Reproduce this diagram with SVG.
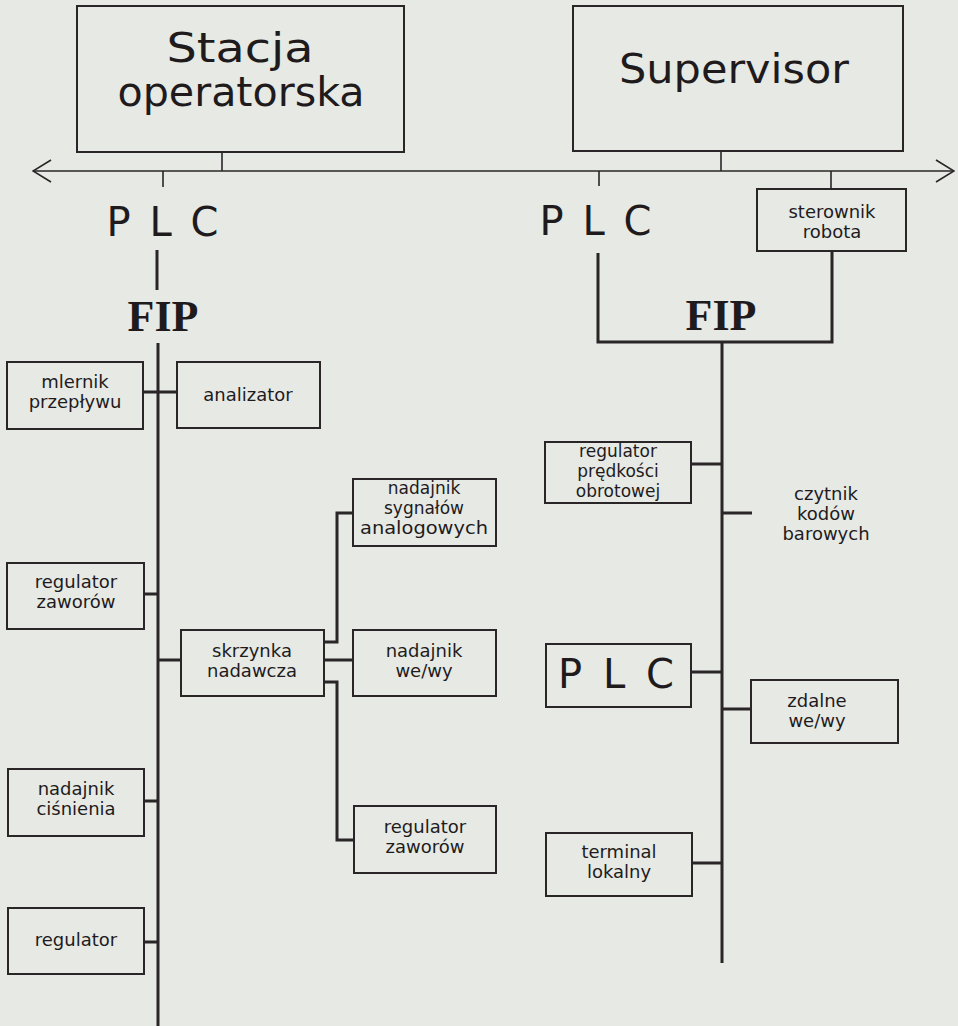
<svg xmlns="http://www.w3.org/2000/svg" width="958" height="1026" viewBox="0 0 958 1026">
<defs>
<style>
.bg{fill:#e6e9e4}
.box{fill:none;stroke:#2a2527;stroke-width:2}
.bus{fill:none;stroke:#2a2527;stroke-width:3}
.thin{fill:none;stroke:#2a2527;stroke-width:1.6}
.lbl{font-family:"DejaVu Sans","Liberation Sans",sans-serif;font-size:18px;fill:#1f1b1d;text-anchor:middle}
.sm{font-size:17px}
.big{font-size:40px}
.plc{font-size:40px}
.fip{font-family:"Liberation Serif","DejaVu Serif",serif;font-weight:bold;font-size:44px;fill:#1f1b1d;text-anchor:middle}
</style>
<marker id="chev" viewBox="0 0 20 24" refX="19" refY="12" markerWidth="20" markerHeight="24" markerUnits="userSpaceOnUse" orient="auto-start-reverse">
<path d="M1,1 L19,12 L1,23" fill="none" stroke="#2a2527" stroke-width="1.6"/>
</marker>
</defs>
<rect class="bg" x="0" y="0" width="958" height="1026"/>

<g id="connectors">
<line class="thin" x1="33" y1="171" x2="954" y2="171" marker-start="url(#chev)" marker-end="url(#chev)"/>
<line class="thin" x1="222" y1="152" x2="222" y2="171"/>
<line class="thin" x1="721" y1="151" x2="721" y2="171"/>
<line class="thin" x1="163" y1="171" x2="163" y2="187"/>
<line class="thin" x1="599" y1="171" x2="599" y2="186"/>
<line class="thin" x1="831" y1="171" x2="831" y2="189"/>
<line class="bus" x1="157" y1="250" x2="157" y2="290"/>
<line class="bus" x1="158" y1="343" x2="158" y2="1026"/>
<polyline class="bus" points="598,253 598,342 832,342 832,251"/>
<line class="bus" x1="722" y1="342" x2="722" y2="963"/>
<line class="bus" x1="143" y1="392" x2="177" y2="392"/>
<line class="bus" x1="144" y1="594" x2="158" y2="594"/>
<line class="bus" x1="158" y1="660" x2="181" y2="660"/>
<line class="bus" x1="144" y1="801" x2="158" y2="801"/>
<line class="bus" x1="144" y1="942" x2="158" y2="942"/>
<polyline class="bus" points="353,513 337,513 337,642 324,642"/>
<line class="bus" x1="324" y1="660" x2="353" y2="660"/>
<polyline class="bus" points="324,682 337,682 337,840 354,840"/>
<line class="bus" x1="691" y1="464" x2="722" y2="464"/>
<line class="bus" x1="722" y1="513" x2="752" y2="513"/>
<line class="bus" x1="691" y1="672" x2="722" y2="672"/>
<line class="bus" x1="722" y1="709" x2="751" y2="709"/>
<line class="bus" x1="692" y1="863" x2="722" y2="863"/>
</g>

<g id="stacja">
<rect class="box" x="77" y="6" width="327" height="146"/>
<text class="lbl big" x="240" y="62" textLength="147" lengthAdjust="spacingAndGlyphs">Stacja</text>
<text class="lbl big" x="241" y="106" textLength="247" lengthAdjust="spacingAndGlyphs">operatorska</text>
</g>
<g id="supervisor">
<rect class="box" x="573" y="6" width="330" height="145"/>
<text class="lbl big" x="734" y="83" textLength="230" lengthAdjust="spacingAndGlyphs">Supervisor</text>
</g>
<g id="plc-left">
<text class="lbl plc" x="164" y="236" letter-spacing="3">P L C</text>
</g>
<g id="fip-left">
<text class="fip" x="163" y="331">FIP</text>
</g>
<g id="plc-right">
<text class="lbl plc" x="597" y="235" letter-spacing="3">P L C</text>
</g>
<g id="fip-right">
<text class="fip" x="721" y="330">FIP</text>
</g>
<g id="sterownik">
<rect class="box" x="757" y="189" width="149" height="62"/>
<text class="lbl" x="832" y="218">sterownik</text>
<text class="lbl" x="832" y="238">robota</text>
</g>
<g id="miernik">
<rect class="box" x="7" y="362" width="136" height="67"/>
<text class="lbl" x="75" y="388">mlernik</text>
<text class="lbl" x="75" y="408">przepływu</text>
</g>
<g id="analizator">
<rect class="box" x="177" y="362" width="143" height="66"/>
<text class="lbl" x="248" y="401">analizator</text>
</g>
<g id="regulator-zaworow-l">
<rect class="box" x="7" y="563" width="137" height="66"/>
<text class="lbl" x="76" y="588">regulator</text>
<text class="lbl" x="76" y="608">zaworów</text>
</g>
<g id="skrzynka">
<rect class="box" x="181" y="630" width="143" height="66"/>
<text class="lbl" x="252" y="657">skrzynka</text>
<text class="lbl" x="252" y="677">nadawcza</text>
</g>
<g id="nadajnik-sygnalow">
<rect class="box" x="353" y="479" width="143" height="67"/>
<text class="lbl sm" x="424" y="494">nadajnik</text>
<text class="lbl sm" x="424" y="514">sygnałów</text>
<text class="lbl sm" x="424" y="534" textLength="128" lengthAdjust="spacingAndGlyphs">analogowych</text>
</g>
<g id="nadajnik-weWy">
<rect class="box" x="353" y="630" width="143" height="66"/>
<text class="lbl" x="424" y="657">nadajnik</text>
<text class="lbl" x="424" y="677">we/wy</text>
</g>
<g id="nadajnik-cisnienia">
<rect class="box" x="8" y="769" width="136" height="67"/>
<text class="lbl" x="76" y="795">nadajnik</text>
<text class="lbl" x="76" y="815">ciśnienia</text>
</g>
<g id="regulator">
<rect class="box" x="8" y="908" width="136" height="66"/>
<text class="lbl" x="76" y="946">regulator</text>
</g>
<g id="regulator-zaworow-r">
<rect class="box" x="354" y="806" width="142" height="67"/>
<text class="lbl" x="425" y="833">regulator</text>
<text class="lbl" x="425" y="853">zaworów</text>
</g>
<g id="regulator-predkosci">
<rect class="box" x="545" y="442" width="146" height="61"/>
<text class="lbl sm" x="618" y="457">regulator</text>
<text class="lbl sm" x="618" y="477">prędkości</text>
<text class="lbl sm" x="618" y="497">obrotowej</text>
</g>
<g id="czytnik">
<text class="lbl" x="826" y="500">czytnik</text>
<text class="lbl" x="826" y="520">kodów</text>
<text class="lbl" x="826" y="540">barowych</text>
</g>
<g id="plc-box">
<rect class="box" x="546" y="644" width="145" height="63"/>
<text class="lbl plc" x="618" y="688" letter-spacing="4">P L C</text>
</g>
<g id="zdalne">
<rect class="box" x="751" y="680" width="147" height="63"/>
<text class="lbl" x="817" y="707">zdalne</text>
<text class="lbl" x="817" y="727">we/wy</text>
</g>
<g id="terminal">
<rect class="box" x="546" y="833" width="146" height="63"/>
<text class="lbl" x="619" y="858">terminal</text>
<text class="lbl" x="619" y="878">lokalny</text>
</g>
</svg>
